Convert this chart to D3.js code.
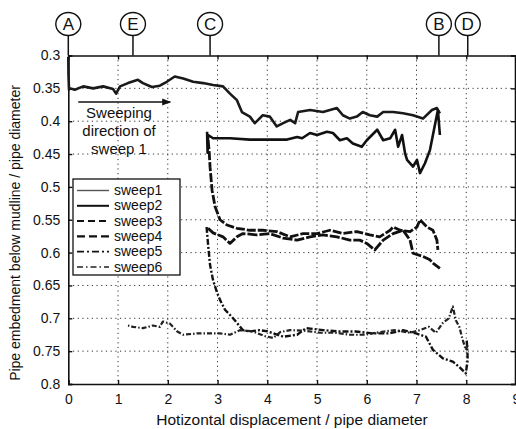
<!DOCTYPE html>
<html>
<head>
<meta charset="utf-8">
<script src="https://cdn.jsdelivr.net/npm/d3@7"></script>
<style>
  body { margin: 0; background: #fff; }
  svg { display: block; font-family: "Liberation Sans", Arial, sans-serif; }
  .grid line { stroke: #333; stroke-width: 1; stroke-dasharray: 1.2, 3.5; }
  .tick text { font-size: 14px; fill: #111; }
</style>
</head>
<body>
<svg width="516" height="429"></svg>
<script>
// tick values
var xTicks = [0, 1, 2, 3, 4, 5, 6, 7, 8, 9]
var yTicks = [0.3, 0.35, 0.4, 0.45, 0.5, 0.55, 0.6, 0.65, 0.7, 0.75, 0.8]

// point markers on the top axis
var markerNames = ["A", "E", "C", "B", "D"]
var markerX = [0, 1.3, 2.85, 7.45, 8.03]

var seriesNames = ["sweep1", "sweep2", "sweep3", "sweep4", "sweep5", "sweep6"]

// [horizontal displacement, embedment]
var sweep1 = [[0, 0.302], [0.004, 0.33], [0.014, 0.352], [0.03, 0.35], [0.13, 0.352], [0.3, 0.347], [0.5, 0.35],
  [0.7, 0.347], [0.9, 0.351], [0.96, 0.358], [1.04, 0.347], [1.2, 0.342], [1.4, 0.337], [1.5, 0.342],
  [1.68, 0.348], [1.84, 0.346], [1.98, 0.34], [2.14, 0.332], [2.31, 0.335], [2.51, 0.34], [2.71, 0.342],
  [2.91, 0.345], [3.11, 0.347], [3.25, 0.358], [3.39, 0.368], [3.49, 0.386], [3.65, 0.393], [3.75, 0.403],
  [3.91, 0.391], [4.05, 0.393], [4.19, 0.408], [4.32, 0.403], [4.46, 0.398], [4.56, 0.403], [4.62, 0.386],
  [4.86, 0.383], [5.12, 0.386], [5.4, 0.38], [5.52, 0.391], [5.66, 0.396], [5.8, 0.393], [5.92, 0.386],
  [6.06, 0.391], [6.21, 0.393], [6.33, 0.386], [6.53, 0.386], [6.73, 0.388], [6.93, 0.391], [7.13, 0.396],
  [7.31, 0.383], [7.41, 0.38], [7.47, 0.388]]

var sweep2 = [[2.79, 0.416], [2.8, 0.448], [2.81, 0.421], [2.91, 0.426], [3.25, 0.426], [3.65, 0.428],
  [4.05, 0.428], [4.4, 0.428], [4.6, 0.424], [4.7, 0.426], [4.86, 0.418], [5.0, 0.421], [5.2, 0.416],
  [5.32, 0.418], [5.46, 0.429], [5.6, 0.426], [5.72, 0.434], [5.9, 0.439], [6.0, 0.429], [6.21, 0.413],
  [6.33, 0.429], [6.47, 0.426], [6.57, 0.413], [6.63, 0.439], [6.71, 0.421], [6.77, 0.449], [6.81, 0.459],
  [6.93, 0.469], [7.01, 0.459], [7.07, 0.479], [7.17, 0.464], [7.27, 0.444], [7.33, 0.421], [7.39, 0.398],
  [7.43, 0.383], [7.47, 0.421]]

var sweep3 = [[2.81, 0.429], [2.83, 0.444], [2.85, 0.47], [2.89, 0.505], [2.95, 0.53], [3.05, 0.55],
  [3.19, 0.558], [3.39, 0.563], [3.65, 0.566], [3.91, 0.566], [4.19, 0.568], [4.46, 0.576], [4.72, 0.571],
  [5.0, 0.571], [5.26, 0.566], [5.52, 0.571], [5.8, 0.568], [6.06, 0.573], [6.26, 0.576], [6.47, 0.566],
  [6.53, 0.561], [6.67, 0.566], [6.87, 0.568], [7.01, 0.561], [7.07, 0.55], [7.21, 0.561], [7.33, 0.566],
  [7.41, 0.581], [7.43, 0.596]]

var sweep4 = [[2.81, 0.563], [2.91, 0.57], [3.11, 0.576], [3.25, 0.586], [3.39, 0.576], [3.51, 0.571],
  [3.79, 0.573], [4.05, 0.571], [4.32, 0.578], [4.6, 0.581], [4.86, 0.576], [5.12, 0.573], [5.4, 0.576],
  [5.66, 0.581], [5.86, 0.581], [6.0, 0.586], [6.16, 0.596], [6.33, 0.581], [6.53, 0.571], [6.73, 0.566],
  [6.87, 0.581], [6.93, 0.601], [7.13, 0.606], [7.27, 0.611], [7.33, 0.616], [7.47, 0.624]]

var sweep5 = [[2.78, 0.561], [2.81, 0.588], [2.85, 0.619], [2.91, 0.642], [2.99, 0.661], [3.05, 0.672],
  [3.15, 0.687], [3.29, 0.698], [3.39, 0.707], [3.51, 0.718], [3.65, 0.72], [3.85, 0.718], [4.01, 0.72],
  [4.32, 0.728], [4.6, 0.725], [4.78, 0.715], [5.12, 0.718], [5.44, 0.72], [5.78, 0.72], [6.12, 0.723],
  [6.45, 0.723], [6.73, 0.718], [6.99, 0.723], [7.19, 0.728], [7.33, 0.748], [7.53, 0.761], [7.73, 0.766],
  [7.86, 0.774], [7.99, 0.784], [8.03, 0.763], [8.01, 0.733]]

var sweep6 = [[8.03, 0.741], [7.99, 0.748], [7.93, 0.733], [7.86, 0.713], [7.79, 0.703], [7.73, 0.682],
  [7.65, 0.7], [7.53, 0.707], [7.39, 0.722], [7.25, 0.713], [7.07, 0.718], [6.87, 0.722], [6.57, 0.718],
  [6.26, 0.721], [5.96, 0.725], [5.66, 0.725], [5.36, 0.722], [5.06, 0.722], [4.76, 0.719], [4.46, 0.718],
  [4.26, 0.721], [4.12, 0.73], [3.95, 0.727], [3.71, 0.72], [3.45, 0.718], [3.25, 0.725], [3.05, 0.723],
  [2.85, 0.723], [2.59, 0.723], [2.31, 0.725], [2.19, 0.72], [2.04, 0.708], [1.9, 0.705], [1.84, 0.713],
  [1.7, 0.711], [1.5, 0.715], [1.3, 0.713], [1.2, 0.711]]

var allSweeps = [sweep1, sweep2, sweep3, sweep4, sweep5, sweep6]

// line looks for each sweep (legend keys and curves)
var styles = [
  { color: "#555", plotColor: "#1a1a1a", width: 1.4, plotWidth: 2.6, dash: null, plotDash: null },
  { color: "#111", plotColor: "#111", width: 2, plotWidth: 2.6, dash: null, plotDash: null },
  { color: "#111", plotColor: "#111", width: 2, plotWidth: 2.8, dash: "7,4", plotDash: "9,2" },
  { color: "#111", plotColor: "#111", width: 2.4, plotWidth: 2.8, dash: "8,4", plotDash: "10,2" },
  { color: "#111", plotColor: "#111", width: 1.8, dash: "7,3,2,3", plotWidth: 2.4, plotDash: "6,2,2,2" },
  { color: "#222", plotColor: "#222", width: 1.6, dash: "6,3,1.5,3", plotWidth: 2.2, plotDash: "5,2,1.5,2" }
]

var svg = d3.select("svg")

var xScale = d3.scaleLinear()
  .domain([0, 9])
  .range([68.3, 516])

var yScale = d3.scaleLinear()
  .domain([0.3, 0.8])
  .range([55.5, 384])

var plot = { left: xScale(0), right: xScale(9), top: yScale(0.3), bottom: yScale(0.8) }

// grid
var grid = svg.append("g").classed("grid", true)
grid.selectAll(".gx")
  .data(xTicks.slice(1, -1))
  .enter()
  .append("line")
  .attr("x1", function (d) { return xScale(d) })
  .attr("x2", function (d) { return xScale(d) })
  .attr("y1", plot.top)
  .attr("y2", plot.bottom)
grid.selectAll(".gy")
  .data(yTicks.slice(1, -1))
  .enter()
  .append("line")
  .attr("x1", plot.left)
  .attr("x2", plot.right)
  .attr("y1", function (d) { return yScale(d) })
  .attr("y2", function (d) { return yScale(d) })

// axes
var xAxis = d3.axisBottom(xScale)
  .tickValues(xTicks)
  .tickSize(-4)
  .tickPadding(10)
  .tickFormat(d3.format("d"))

var yAxis = d3.axisLeft(yScale)
  .tickValues(yTicks)
  .tickSize(-4)
  .tickPadding(8)
  .tickFormat(function (d) { return d3.format("")(+d.toFixed(2)) })

var gx = svg.append("g")
  .attr("transform", "translate(0," + plot.bottom + ")")
  .call(xAxis)
var gy = svg.append("g")
  .attr("transform", "translate(" + plot.left + ",0)")
  .call(yAxis)

var gxTop = svg.append("g")
  .attr("transform", "translate(0," + plot.top + ")")
  .call(d3.axisTop(xScale).tickValues(xTicks).tickSize(-4).tickFormat(""))
var gyRight = svg.append("g")
  .attr("transform", "translate(" + (plot.right - 1) + ",0)")
  .call(d3.axisRight(yScale).tickValues(yTicks).tickSize(-4).tickFormat(""))

;[gx, gy, gxTop, gyRight].forEach(function (g) {
  g.select(".domain").attr("stroke", "#111").attr("stroke-width", 1.6)
  g.selectAll(".tick line").attr("stroke", "#111").attr("stroke-width", 1.4)
})

// curves
var lineGenerator = d3.line()
  .x(function (p) { return xScale(p[0]) })
  .y(function (p) { return yScale(p[1]) })

svg.append("g")
  .selectAll("path")
  .data(allSweeps)
  .enter()
  .append("path")
  .attr("d", lineGenerator)
  .attr("fill", "none")
  .attr("stroke", function (d, i) { return styles[i].plotColor })
  .attr("stroke-width", function (d, i) { return styles[i].plotWidth })
  .attr("stroke-dasharray", function (d, i) { return styles[i].plotDash })
  .attr("stroke-linejoin", "round")

// markers on top
var markers = svg.append("g")
  .selectAll("g")
  .data(markerNames)
  .enter()
  .append("g")
  .attr("transform", function (d, i) { return "translate(" + xScale(markerX[i]) + ",24)" })
markers.append("line")
  .attr("y1", 11)
  .attr("y2", plot.top - 24)
  .attr("stroke", "#111")
  .attr("stroke-width", 1.5)
markers.append("ellipse")
  .attr("rx", 12.5)
  .attr("ry", 11.5)
  .attr("fill", "#fff")
  .attr("stroke", "#111")
  .attr("stroke-width", 1.4)
markers.append("text")
  .text(function (d) { return d })
  .attr("text-anchor", "middle")
  .attr("y", 6)
  .attr("font-size", "17px")
  .attr("fill", "#111")

// sweeping direction note
svg.append("defs").append("marker")
  .attr("id", "arrow")
  .attr("viewBox", "0 0 10 10")
  .attr("refX", 9)
  .attr("refY", 5)
  .attr("markerWidth", 9)
  .attr("markerHeight", 6)
  .attr("orient", "auto")
  .append("path")
  .attr("d", "M0,1 L10,5 L0,9 Z")
  .attr("fill", "#111")

svg.append("line")
  .attr("x1", xScale(0.2))
  .attr("x2", xScale(2.05))
  .attr("y1", 102)
  .attr("y2", 102)
  .attr("stroke", "#111")
  .attr("stroke-width", 1.5)
  .attr("marker-end", "url(#arrow)")

var note = svg.append("text")
  .attr("text-anchor", "middle")
  .attr("font-size", "15px")
  .attr("fill", "#111")
note.selectAll("tspan")
  .data(["Sweeping", "direction of", "sweep 1"])
  .enter()
  .append("tspan")
  .attr("x", 119)
  .attr("y", function (d, i) { return 118 + i * 18 })
  .text(function (d) { return d })

// legend
var legend = svg.append("g").attr("transform", "translate(73,179)")
legend.append("rect")
  .attr("width", 107)
  .attr("height", 96)
  .attr("fill", "#fff")
  .attr("stroke", "#111")
  .attr("stroke-width", 1.3)
var items = legend.selectAll(".item")
  .data(seriesNames)
  .enter()
  .append("g")
  .attr("transform", function (d, i) { return "translate(0," + (11.5 + i * 15.3) + ")" })
items.append("line")
  .attr("x1", 4)
  .attr("x2", 36)
  .attr("stroke", function (d, i) { return styles[i].color })
  .attr("stroke-width", function (d, i) { return styles[i].width })
  .attr("stroke-dasharray", function (d, i) { return styles[i].dash })
items.append("text")
  .text(function (d) { return d })
  .attr("x", 41)
  .attr("y", 4.5)
  .attr("font-size", "14px")
  .attr("fill", "#111")

// axis titles
svg.append("text")
  .text("Hotizontal displacement / pipe diameter")
  .attr("text-anchor", "middle")
  .attr("x", 292)
  .attr("y", 425)
  .attr("font-size", "15.5px")
  .attr("fill", "#111")

svg.append("text")
  .text("Pipe embedment below mudline / pipe diameter")
  .attr("text-anchor", "middle")
  .attr("transform", "translate(20,233) rotate(-90)")
  .attr("font-size", "14px")
  .attr("fill", "#111")
</script>
</body>
</html>
